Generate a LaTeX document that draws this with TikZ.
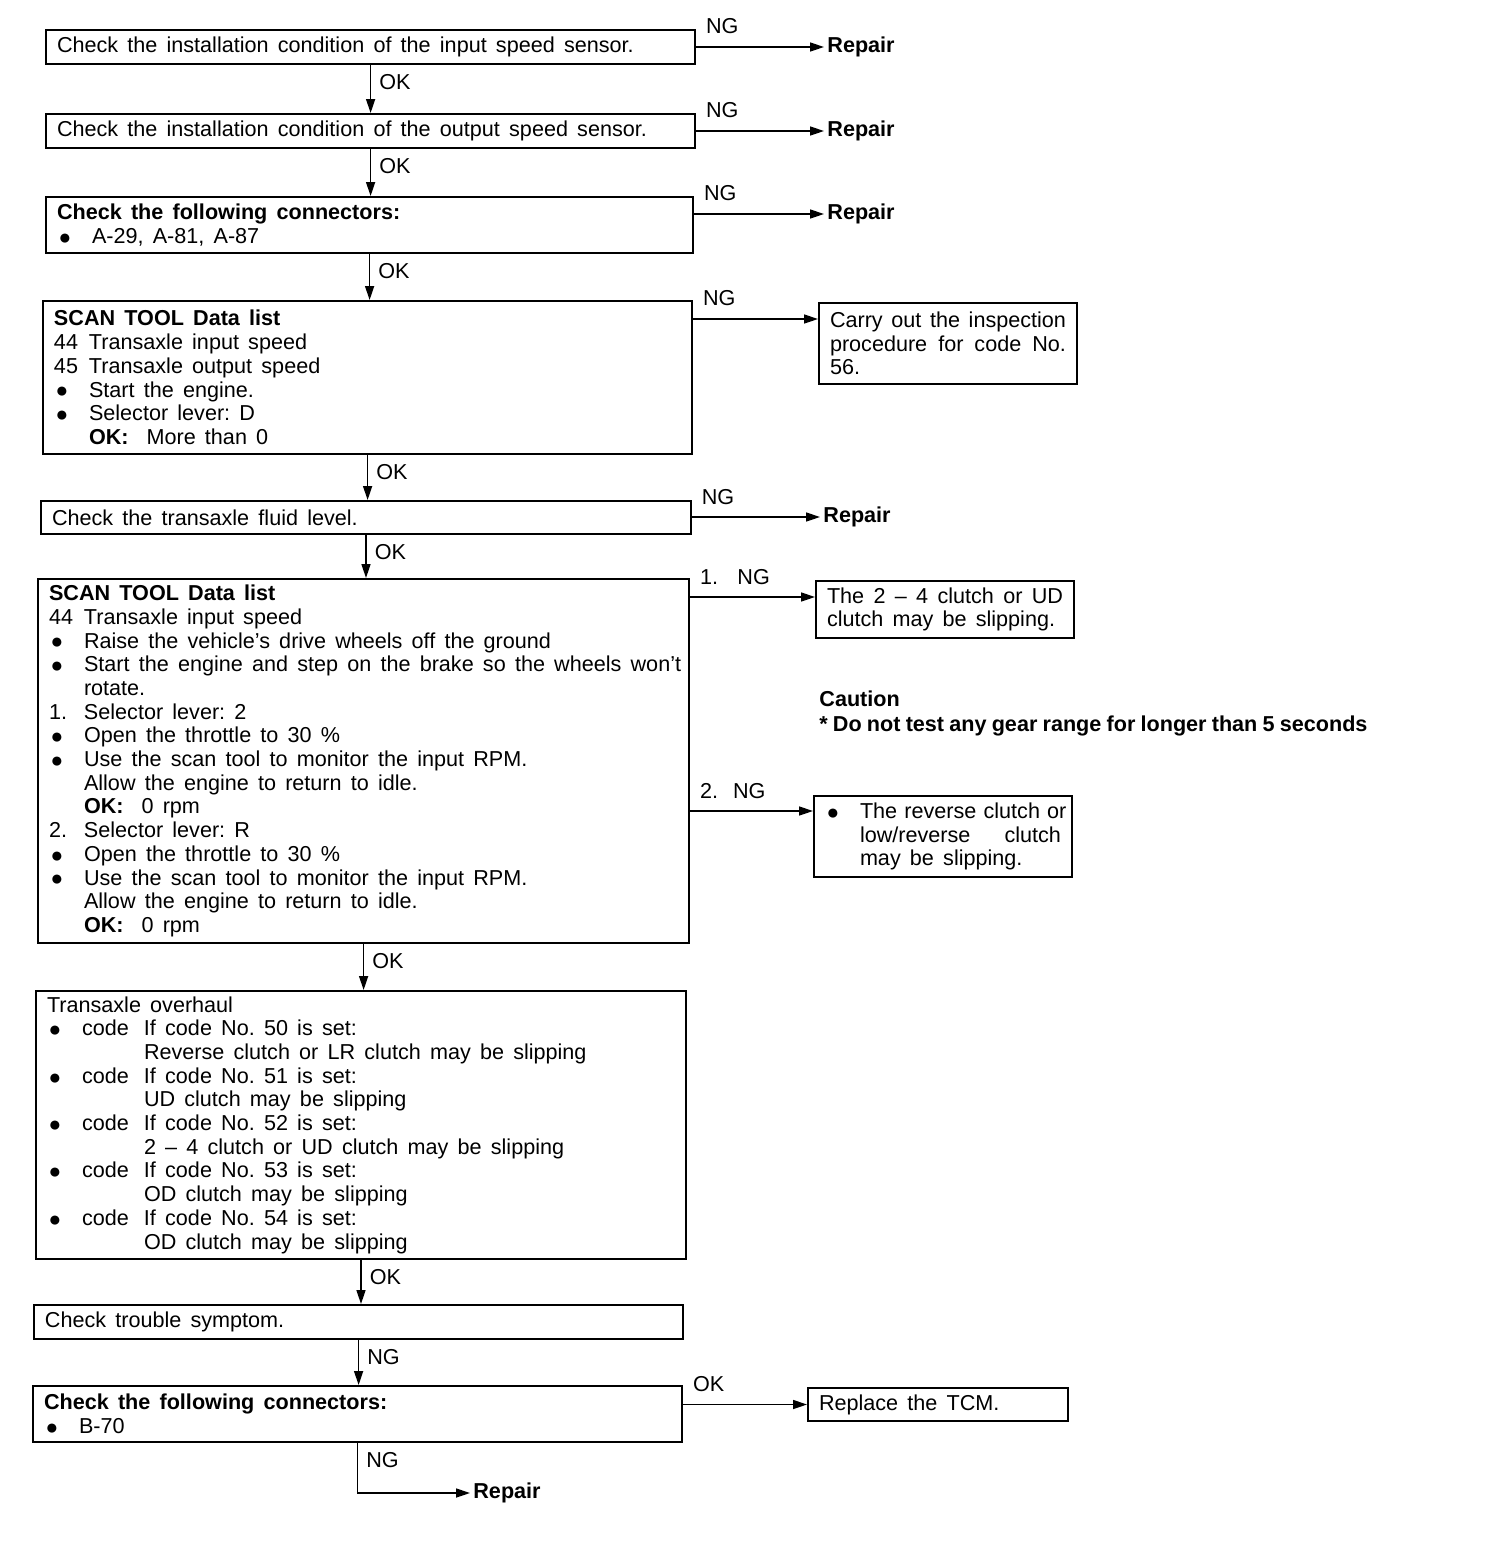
\documentclass[tikz,border=0pt]{standalone}
\usepackage{fontspec}
\setmainfont{Liberation Sans}
\usetikzlibrary{arrows.meta}
\frenchspacing
\newcommand{\bl}{\makebox[17.5pt][l]{\hspace{0.8pt}\raisebox{-0.4pt}{\fontsize{10.5}{7}\selectfont\symbol{"25CF}}}}
\newcommand{\nr}[1]{\makebox[17.5pt][l]{#1}}
\newcommand{\ind}{\hspace*{17.5pt}}
\newcommand{\cd}{\bl\makebox[31pt][l]{code}}
\newcommand{\cdind}{\hspace*{48.5pt}}
\newcommand{\widesp}{\spaceskip=4.6pt plus 2pt minus 1pt\relax}
\newcommand{\tightsp}{\spaceskip=2.6pt plus 1pt minus 1pt\relax}
\begin{document}
\begin{tikzpicture}[x=0.5pt,y=-0.5pt,font=\fontsize{10.8}{11.85}\selectfont\widesp,
    stepbox/.style 2 args={draw,line width=1pt,anchor=north west,align=flush left,text width=#1,minimum height=#2,inner xsep=5.5pt,inner ysep=1pt},
    arr/.style={line width=0.8pt,-{Triangle[length=7pt,width=4.5pt]}},
    sidelbl/.style={anchor=south west,inner sep=1.5pt,xshift=3pt,yshift=4.5pt},
    downlbl/.style={anchor=north west,inner sep=1.5pt,xshift=2.5pt,yshift=-3pt},
    endtxt/.style={anchor=west,inner sep=1.5pt}]
    \useasboundingbox (0,0) rectangle (1504,1560);

    \node[stepbox={313.6pt}{17pt}] (b1) at (45,29) {Check the installation condition of the input speed sensor.};
    \node[stepbox={313.6pt}{17pt}] (b2) at (45,113) {Check the installation condition of the output speed sensor.};
    \node[stepbox={312.6pt}{28pt}] (b3) at (45,196) {\textbf{Check the following connectors:}\\
        \bl A-29, A-81, A-87};
    \node[stepbox={313.6pt}{76.5pt}] (b4) at (42,300) {\textbf{SCAN TOOL Data list}\\
        \nr{44}Transaxle input speed\\
        \nr{45}Transaxle output speed\\
        \bl Start the engine.\\
        \bl Selector lever: D\\
        \ind\textbf{OK:}\hspace{9pt}More than 0};
    \node[stepbox={314pt}{16.5pt}] (b5) at (40,500) {Check the transaxle fluid level.};
    \node[stepbox={314.6pt}{182pt}] (b6) at (37,578) {\textbf{SCAN TOOL Data list}\\
        \nr{44}Transaxle input speed\\
        \bl Raise the vehicle's drive wheels off the ground\\
        \bl\mbox{Start the engine and step on the brake so the wheels won't}\\
        \ind rotate.\\
        \nr{1.}Selector lever: 2\\
        \bl Open the throttle to 30 \%\\
        \bl Use the scan tool to monitor the input RPM.\\
        \ind Allow the engine to return to idle.\\
        \ind\textbf{OK:}\hspace{9pt}0 rpm\\
        \nr{2.}Selector lever: R\\
        \bl Open the throttle to 30 \%\\
        \bl Use the scan tool to monitor the input RPM.\\
        \ind Allow the engine to return to idle.\\
        \ind\textbf{OK:}\hspace{9pt}0 rpm};
    \node[stepbox={314pt}{134pt}] (b7) at (35,990) {Transaxle overhaul\\
        \cd If code No. 50 is set:\\
        \cdind Reverse clutch or LR clutch may be slipping\\
        \cd If code No. 51 is set:\\
        \cdind UD clutch may be slipping\\
        \cd If code No. 52 is set:\\
        \cdind 2 -- 4 clutch or UD clutch may be slipping\\
        \cd If code No. 53 is set:\\
        \cdind OD clutch may be slipping\\
        \cd If code No. 54 is set:\\
        \cdind OD clutch may be slipping};
    \node[stepbox={313.6pt}{17pt}] (b8) at (33,1304) {Check trouble symptom.};
    \node[stepbox={313.6pt}{28pt}] (b9) at (32,1385) {\textbf{Check the following connectors:}\\
        \bl B-70};

    \node[stepbox={118pt}{40.5pt}] (carry) at (818,302) {\makebox[118pt][s]{Carry out the inspection}\\
        \makebox[118pt][s]{procedure for code No.}\\
        56.};
    \node[stepbox={118pt}{28.5pt}] (res1) at (815,580) {\makebox[118pt][s]{The 2 -- 4 clutch or UD}\\
        clutch may be slipping.};
    \node[stepbox={118pt}{40.5pt}] (res2) at (813,795) {\bl\makebox[100.5pt][s]{The reverse clutch or}\\
        \ind\makebox[100.5pt][s]{low/reverse clutch}\\
        \ind may be slipping.};
    \node[stepbox={119pt}{16.5pt}] (tcm) at (807,1387) {Replace the TCM.};

    \node[anchor=north west,align=flush left,inner sep=0pt,font=\fontsize{10.8}{12.5}\selectfont\bfseries\tightsp] (caution) at (819,690) {Caution\\
        * Do not test any gear range for longer than 5 seconds};

    \node[endtxt] (rep1) at (824,47) {\textbf{Repair}};
    \node[endtxt] (rep2) at (824,131) {\textbf{Repair}};
    \node[endtxt] (rep3) at (824,214) {\textbf{Repair}};
    \node[endtxt] (rep5) at (820,517) {\textbf{Repair}};
    \node[endtxt] (rep9) at (470,1493) {\textbf{Repair}};

    \coordinate (t4) at ([yshift=-8.5pt]carry.north west);
    \coordinate (t61) at ([yshift=-8.5pt]res1.north west);
    \coordinate (t62) at ([yshift=-8pt]res2.north west);

    \draw[arr] (rep1.west -| b1.east) -- (rep1.west) node[sidelbl,pos=0] (ng1) {NG};
    \draw[arr] (rep2.west -| b2.east) -- (rep2.west) node[sidelbl,pos=0] (ng2) {NG};
    \draw[arr] (rep3.west -| b3.east) -- (rep3.west) node[sidelbl,pos=0] (ng3) {NG};
    \draw[arr] (t4 -| b4.east) -- (t4) node[sidelbl,pos=0] (ng4) {NG};
    \draw[arr] (rep5.west -| b5.east) -- (rep5.west) node[sidelbl,pos=0] (ng5) {NG};
    \draw[arr] (t61 -| b6.east) -- (t61) node[sidelbl,pos=0] (ng61) {1.\hspace{0.9em}NG};
    \draw[arr] (t62 -| b6.east) -- (t62) node[sidelbl,pos=0] (ng62) {2.\hspace{0.7em}NG};
    \draw[arr] (tcm.west -| b9.east) -- (tcm.west) node[sidelbl,pos=0] (ok9) {OK};

    \draw[arr] (b1.south) -- (b1.south |- b2.north) node[downlbl,pos=0] (ok1) {OK};
    \draw[arr] (b2.south) -- (b2.south |- b3.north) node[downlbl,pos=0] (ok2) {OK};
    \draw[arr] (b3.south) -- (b3.south |- b4.north) node[downlbl,pos=0] (ok3) {OK};
    \draw[arr] (b4.south) -- (b4.south |- b5.north) node[downlbl,pos=0] (ok4) {OK};
    \draw[arr] (b5.south) -- (b5.south |- b6.north) node[downlbl,pos=0] (ok5) {OK};
    \draw[arr] (b6.south) -- (b6.south |- b7.north) node[downlbl,pos=0] (ok6) {OK};
    \draw[arr] (b7.south) -- (b7.south |- b8.north) node[downlbl,pos=0] (ok7) {OK};
    \draw[arr] (b8.south) -- (b8.south |- b9.north) node[downlbl,pos=0] (ng8) {NG};
    \draw[arr] (b9.south) |- (rep9.west) node[downlbl,pos=0] (ng9) {NG};
\end{tikzpicture}
\end{document}
